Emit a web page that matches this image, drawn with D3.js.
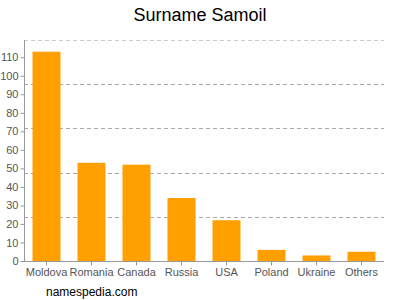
<!DOCTYPE html>
<html><head><meta charset="utf-8">
<script src="https://cdn.jsdelivr.net/npm/d3@7"></script>
<style>body{margin:0;background:#fff}svg{display:block;font-family:Arial,"Liberation Sans",sans-serif}</style>
</head><body>
<svg id="c" width="400" height="300"></svg>
<script>
const categories = ["Moldova","Romania","Canada","Russia","USA","Poland","Ukraine","Others"];
const values = [113,53,52,34,22,6,3,5];
const yTicks = [0,10,20,30,40,50,60,70,80,90,100,110];
const title = "Surname Samoil";
const credit = "namespedia.com";

(function(){
const svg = d3.select("#c");
const mLeft = 24, mRight = 384, mTop = 40, mBottom = 261;
const yMax = 119.3;
const x = d3.scaleBand().domain(categories).range([mLeft, mRight]).paddingInner(0.378).paddingOuter(0.189);
const y = d3.scaleLinear().domain([0, yMax]).range([mBottom, mTop]);

const grid = d3.range(1, 6).map(i => yMax * i / 5);
svg.append("g").selectAll("line").data(grid).join("line")
  .attr("x1", mLeft).attr("x2", mRight)
  .attr("y1", d => Math.round(y(d)) + 0.5).attr("y2", d => Math.round(y(d)) + 0.5)
  .attr("stroke", (d, i) => i === 4 ? "#ccc" : "#aaa").attr("stroke-dasharray", "4,3");

svg.append("g").selectAll("rect").data(values).join("rect")
  .attr("x", (d, i) => x(categories[i])).attr("width", x.bandwidth())
  .attr("y", d => y(d)).attr("height", d => y(0) - y(d))
  .attr("fill", "#ffa000");

const yAxis = svg.append("g").attr("transform", `translate(${mLeft + 0.5},0)`)
  .call(d3.axisLeft(y).tickValues(yTicks).tickSize(4).tickPadding(2));
yAxis.select(".domain").attr("stroke", "#999").attr("d", `M0,${mTop}V${mBottom}`);
yAxis.selectAll(".tick line").attr("stroke", "#999");
yAxis.selectAll("text").attr("fill", "#555").style("font-size", "11px");

const xAxis = svg.append("g").attr("transform", `translate(0,${mBottom + 0.5})`)
  .call(d3.axisBottom(x).tickSize(4).tickPadding(3));
xAxis.select(".domain").attr("stroke", "#999").attr("d", `M${mLeft},0H${mRight}`);
xAxis.selectAll(".tick line").attr("stroke", "#999");
xAxis.selectAll("text").attr("fill", "#555").style("font-size", "11px");

svg.append("text").attr("x", 200).attr("y", 21).attr("text-anchor", "middle")
  .style("font-size", "18px").attr("fill", "#000").text(title);
svg.append("text").attr("x", 46).attr("y", 296)
  .style("font-size", "12px").attr("fill", "#000").text(credit);
})();
</script>
</body></html>
